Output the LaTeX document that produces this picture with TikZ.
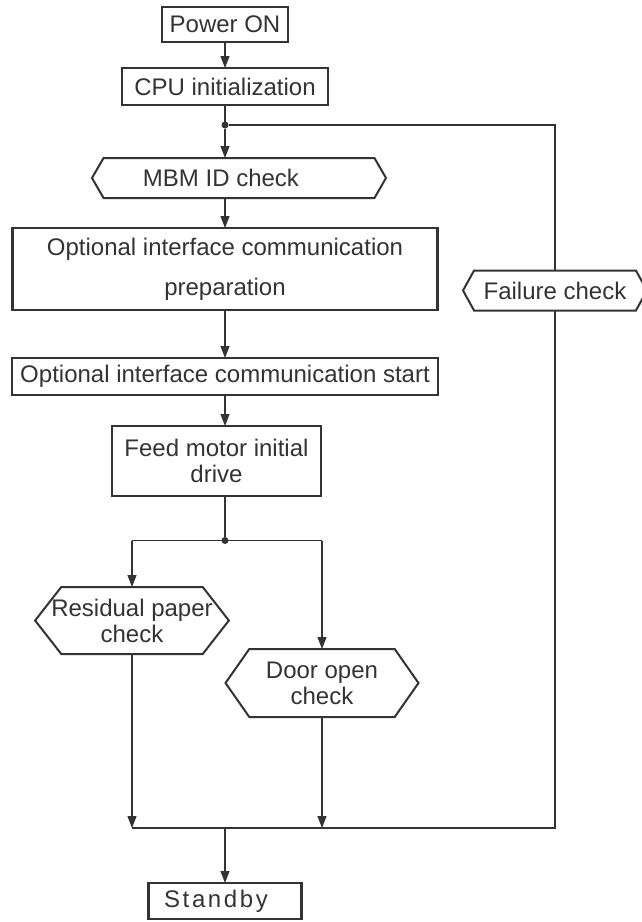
\documentclass[tikz,border=0pt]{standalone}
\usepackage{fontspec}
\setmainfont{Liberation Sans}
\newfontfamily\spacedfont[LetterSpace=11]{Liberation Sans}
\usetikzlibrary{positioning, shapes.symbols, arrows.meta}
\definecolor{inkgray}{HTML}{333333}
\tikzset{
  box/.style={draw=inkgray, line width=2.3pt, fill=white, text=inkgray, align=center, inner sep=2pt, outer sep=0pt},
  hexa/.style={signal, signal to=west and east, draw=inkgray, line width=2pt, fill=white, text=inkgray, align=center, inner sep=1pt, outer sep=0pt},
  link/.style={draw=inkgray, line width=1.1pt},
  arr/.style={link, -{Triangle[width=9pt,length=12pt]}},
  dot/.style={circle, fill=inkgray, inner sep=0pt, outer sep=0pt, minimum size=7pt},
}

\begin{document}
\begin{tikzpicture}[x=1pt, y=-1pt, font=\fontsize{24}{26}\selectfont]
  \useasboundingbox (0,0) rectangle (641,922);
  % Define nodes
  \node[box, minimum width=126pt, minimum height=35pt] (power) at (225,24.5) {Power ON};
  \node[box, minimum width=206pt, minimum height=37pt, below=26pt of power] (cpu) {CPU initialization};
  \node[dot, below=16.5pt of cpu] (jtop) {};
  \node[hexa, signal pointer angle=120, minimum width=294pt, minimum height=40pt, below=29.5pt of jtop, xshift=14pt] (mbm) {\hspace*{-36pt}MBM ID check};
  \node[box, minimum width=425pt, minimum height=82pt, below=30pt of mbm, xshift=-14pt] (prep) {Optional interface communication\\[14pt]preparation};
  \node[box, minimum width=426pt, minimum height=37pt, below=48pt of prep] (start) {Optional interface communication start};
  \node[box, minimum width=209pt, minimum height=70pt, below=31pt of start, xshift=-8.5pt] (feed) {Feed motor initial\\drive};
  %--
  \node[dot, below=41pt of feed, xshift=8.5pt] (jmid) {};
  \node[hexa, signal pointer angle=104, inner xsep=-10pt, minimum width=193pt, minimum height=67pt, below=43pt of jmid, xshift=-93pt] (res) {Residual paper\\check};
  \node[hexa, signal pointer angle=110, minimum width=193pt, minimum height=68pt, below=105pt of jmid, xshift=97pt] (door) {Door open\\check};
  \node[hexa, signal pointer angle=122, minimum width=184pt, minimum height=40pt, below=142pt of jtop, xshift=330pt] (fail) {Failure check};
  %--
  \path (door.south) ++(0,111) coordinate (dbot);
  \coordinate (mbot) at (jmid |- dbot);
  \node[box, minimum width=153pt, minimum height=36pt, below=55pt of mbot] (standby) {\spacedfont\hspace*{-18pt}Standby};

  % Connect the nodes
  \draw[arr] (power) -- (cpu);
  \draw[link] (cpu) -- (jtop);
  \draw[arr] (jtop) -- (jtop |- mbm.north);
  \draw[arr] (mbm.south -| prep) -- (prep);
  \draw[arr] (prep) -- (start);
  \draw[arr] (start) -- (start |- feed.north);
  \draw[link] (feed.south -| jmid) -- (jmid);
  \draw[link] (res.north |- jmid) -- (door.north |- jmid);
  \draw[arr] (res.north |- jmid) -- (res.north);
  \draw[arr] (door.north |- jmid) -- (door.north);
  \draw[link] (jtop) -- (jtop -| fail) -- (fail.north);
  \draw[link] (fail.south) -- (fail |- dbot) -- (res.south |- dbot);
  \draw[arr] (res.south) -- (res.south |- dbot);
  \draw[arr] (door.south) -- (dbot);
  \draw[arr] (mbot) -- (standby);
\end{tikzpicture}
\end{document}
